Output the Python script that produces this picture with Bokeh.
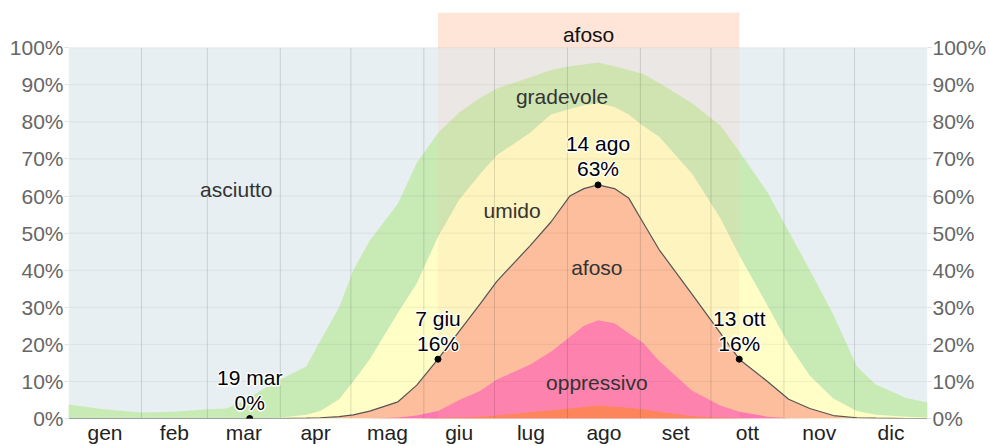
import numpy as np
from bokeh.plotting import figure
from bokeh.models import ColumnDataSource, FixedTicker, LinearAxis, PrintfTickFormatter, Range1d
from bokeh.core.properties import value
from bokeh.embed import file_html
from bokeh.resources import INLINE

# ---------------- data ----------------
months = ["gen", "feb", "mar", "apr", "mag", "giu", "lug", "ago", "set", "ott", "nov", "dic"]
month_days = [31, 28, 31, 30, 31, 30, 31, 31, 30, 31, 30, 31]

# day of year (0 = 1 gen)
days = [0, 15, 31, 45, 59, 67, 74, 83, 90, 101, 107, 115, 121, 128, 140, 148, 157, 166, 175, 182,
        196, 205, 213, 219, 225, 232, 238, 244, 251, 265, 277, 285, 297, 306, 315, 325, 335, 343, 356, 365]

# cumulative percentages of time (level or worse)
miserable = [0, 0, 0, 0, 0, 0, 0, 0, 0, 0, 0, 0, 0, 0, 0, 0, 0.2, 0.3, 0.5, 0.8,
             1.7, 2.2, 2.7, 3.1, 3.5, 3.2, 2.9, 2.5, 1.8, 0.6, 0.3, 0.1, 0, 0, 0, 0, 0, 0, 0, 0]
oppressive_or_worse = [0, 0, 0, 0, 0, 0, 0, 0, 0, 0, 0, 0, 0, 0, 0.3, 0.8, 2, 5, 7.5, 10.5,
                       14.5, 18, 22, 25, 26.5, 25.7, 23, 20.5, 15.5, 7.5, 3.5, 1.8, 0.5, 0.1, 0, 0, 0, 0, 0, 0]
muggy_or_worse = [0, 0, 0, 0, 0, 0, 0, 0, 0, 0.1, 0.2, 0.5, 1, 2, 4.5, 9, 16, 23.5, 31, 37,
                  46.5, 53, 60, 62, 63, 62, 59.5, 53, 45.5, 33.5, 23, 16, 10, 5.2, 2.7, 0.8, 0.2, 0.1, 0, 0]
humid_or_worse = [0, 0, 0, 0, 0, 0, 0, 0, 0.2, 1, 2, 5.2, 10, 16, 28.5, 36.5, 49, 59, 66, 71,
                  77, 82, 83.5, 84.5, 85, 84, 82, 79, 76, 66, 54, 44, 30.5, 20, 11.5, 5.4, 2, 1, 0.5, 0.3]
comfortable_or_worse = [3.8, 2.5, 1.6, 1.8, 2.5, 2.7, 4.5, 8, 10.5, 14, 21, 30, 40, 48, 58, 69, 77, 82.5, 86.5, 89,
                        92, 94, 95, 95.5, 96, 95, 94, 93, 90.5, 85, 79, 72, 61, 50.5, 40, 28, 14, 9.2, 5.5, 4.3]
dry_or_worse = [100] * len(days)

layer_names = ["asciutto", "gradevole", "umido", "afoso", "oppressivo", "insopportabile"]

# annotated points on the "afoso or worse" line
ann_days = [77, 157, 225, 285]
ann_values = [0, 16, 63, 16]
ann_dates = ["19 mar", "7 giu", "14 ago", "13 ott"]

# muggy period (band on top)
period_start, period_end = 157, 285
period_label = "afoso"

y_ticks = list(range(0, 101, 10))

# ---------------- style ----------------
FONT = "Liberation Sans"
FS = "21px"
colors = ["#e7eff2", "#c8ebb6", "#fefec6", "#fcbe9c", "#fd78b2", "#fc7a50"]
Y_TOP = 109.5

month_starts = np.concatenate([[0], np.cumsum(month_days)[:-1]])
month_mid = [float(s + d / 2) for s, d in zip(month_starts, month_days)]
boundaries = [float(b) for b in np.cumsum(month_days)[:-1]]

p = figure(width=989, height=446, output_backend="svg", toolbar_location=None,
           x_range=Range1d(0, 365), y_range=Range1d(0, Y_TOP),
           min_border_left=68, min_border_right=61, min_border_top=12, min_border_bottom=26)
p.outline_line_color = None
p.background_fill_color = "white"
p.border_fill_color = "white"
p.xgrid.visible = False
p.ygrid.visible = False

# stacked areas (cumulative, drawn from largest to smallest)
layers = [dry_or_worse, comfortable_or_worse, humid_or_worse, muggy_or_worse, oppressive_or_worse, miserable]
for top, c in zip(layers, colors):
    p.varea(x=days, y1=0, y2=top, fill_color=c)

# period overlay and top band
p.quad(left=[period_start], right=[period_end], bottom=[0], top=[100],
       fill_color=colors[3], fill_alpha=0.16, line_color=None)
p.quad(left=[period_start], right=[period_end], bottom=[100], top=[Y_TOP],
       fill_color=colors[3], fill_alpha=0.4, line_color=None)

# grid lines
p.segment(x0=boundaries, y0=0, x1=boundaries, y1=100, line_color="black", line_alpha=0.13, line_width=1)
p.segment(x0=0, x1=365, y0=y_ticks[1:], y1=y_ticks[1:], line_color="black", line_alpha=0.06, line_width=1)

# line of "afoso or worse"
p.line(x=days, y=muggy_or_worse, line_color="#555555", line_width=1.2)

# region labels
region_labels = [("asciutto", 71.3, 61.7), ("gradevole", 209.7, 86.9), ("umido", 188.5, 56.0),
                 ("afoso", 224.5, 40.8), ("oppressivo", 224.5, 9.7)]
p.text(x=[r[1] for r in region_labels], y=[r[2] for r in region_labels], text=[r[0] for r in region_labels],
       text_font=value(FONT), text_font_size=FS, text_color="#333333",
       text_align="center", text_baseline="middle")
p.text(x=[(period_start + period_end) / 2], y=[(100 + Y_TOP) / 2], text=[period_label], y_offset=4,
       text_font=value(FONT), text_font_size=FS, text_color="#111111",
       text_align="center", text_baseline="middle")

# annotations with white halo
tx, ty, tt, toff = [], [], [], []
for d, v, lab in zip(ann_days, ann_values, ann_dates):
    tx += [d, d]
    ty += [v, v]
    tt += [lab, f"{v}%"]
    toff += [-41, -16]
halo = dict(x=[], y=[], text=[], xo=[], yo=[])
for dx, dy in [(-1.5, 0), (1.5, 0), (0, -1.5), (0, 1.5), (-1, -1), (1, 1), (-1, 1), (1, -1)]:
    for x_, y_, t_, o_ in zip(tx, ty, tt, toff):
        halo["x"].append(x_); halo["y"].append(y_); halo["text"].append(t_)
        halo["xo"].append(dx); halo["yo"].append(o_ + dy)
p.text(x="x", y="y", text="text", x_offset="xo", y_offset="yo", source=ColumnDataSource(halo),
       text_font=value(FONT), text_font_size=FS, text_color="white", text_alpha=0.85,
       text_align="center", text_baseline="middle")
p.text(x="x", y="y", text="text", y_offset="o", source=ColumnDataSource(dict(x=tx, y=ty, text=tt, o=toff)),
       text_font=value(FONT), text_font_size=FS, text_color="black",
       text_align="center", text_baseline="middle")
p.scatter(x=ann_days, y=ann_values, size=6, color="black")

# axes
p.yaxis.ticker = FixedTicker(ticks=y_ticks)
p.yaxis.formatter = PrintfTickFormatter(format="%d%%")
right = LinearAxis(ticker=FixedTicker(ticks=y_ticks), formatter=PrintfTickFormatter(format="%d%%"))
p.add_layout(right, "right")
for ax in [p.yaxis[0], right]:
    ax.axis_line_color = None
    ax.major_tick_line_color = "#dfe3e5"
    ax.major_tick_out = 4
    ax.major_tick_in = 0
    ax.minor_tick_line_color = None
    ax.major_label_text_font = FONT
    ax.major_label_text_font_size = FS
    ax.major_label_text_color = "#666666"
    ax.major_label_standoff = 1

p.xaxis.ticker = FixedTicker(ticks=month_mid)
p.xaxis.major_label_overrides = {m: n for m, n in zip(month_mid, months)}
p.xaxis.axis_line_color = None
p.xaxis.major_tick_line_color = None
p.xaxis.major_tick_out = 0
p.xaxis.major_tick_in = 0
p.xaxis.minor_tick_line_color = None
p.xaxis.minor_tick_out = 0
p.xaxis.minor_tick_in = 0
p.xaxis.major_label_text_font = FONT
p.xaxis.major_label_text_font_size = FS
p.xaxis.major_label_text_line_height = 1.0
p.xaxis.major_label_text_color = "#222222"
p.xaxis.major_label_standoff = 2

open("out.html", "w").write(file_html(p, INLINE))
